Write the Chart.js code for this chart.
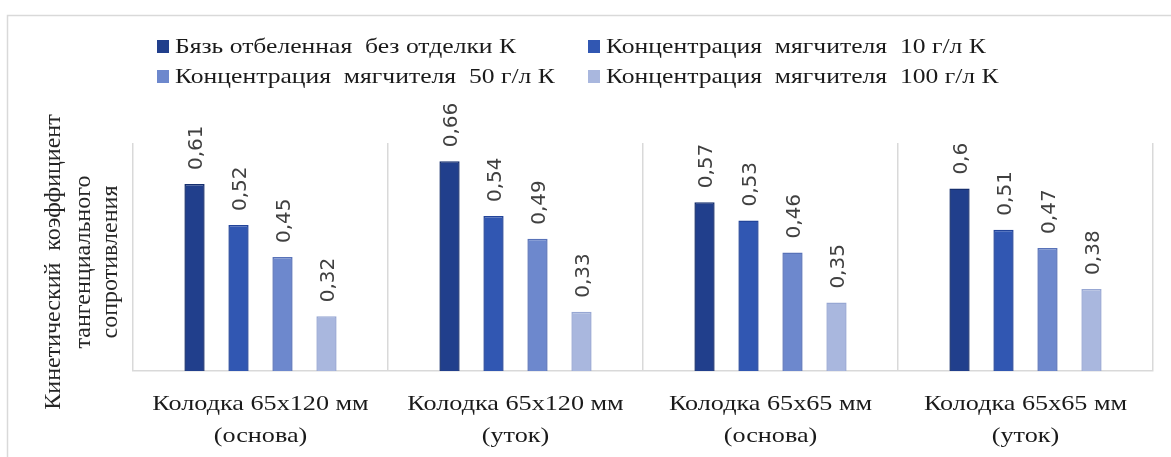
<!DOCTYPE html>
<html>
<head>
<meta charset="utf-8">
<script src="https://cdn.jsdelivr.net/npm/chart.js@4/dist/chart.umd.min.js"></script>
<style>
  html, body { margin: 0; padding: 0; background: #fff; overflow: hidden; }
  #wrap { position: relative; width: 1171px; height: 457px; }
</style>
</head>
<body>
<div id="wrap"><canvas id="chart"></canvas></div>
<script>
// Категории (колодки)
const categories = [
  ["Колодка 65х120 мм", "(основа)"],
  ["Колодка 65х120 мм", "(уток)"],
  ["Колодка 65х65 мм", "(основа)"],
  ["Колодка 65х65 мм", "(уток)"]
];

// Серии
const seriesNames = [
  "Бязь отбеленная  без отделки К",
  "Концентрация  мягчителя  10 г/л К",
  "Концентрация  мягчителя  50 г/л К",
  "Концентрация  мягчителя  100 г/л К"
];
const bazNoFinish = [0.61, 0.66, 0.57, 0.6];
const soft10 = [0.52, 0.54, 0.53, 0.51];
const soft50 = [0.45, 0.49, 0.46, 0.47];
const soft100 = [0.32, 0.33, 0.35, 0.38];

const yTitle = ["Кинетический  коэффициент", "тангенциального", "сопротивления"];

const fills = ["#213f8c", "#3157b2", "#6d88cd", "#a9b7de"];
const borders = ["#152e6e", "#22449a", "#5872b8", "#97a7d3"];

const serif = "'Liberation Serif', 'DejaVu Serif', serif";

// текст, растянутый по горизонтали (как в исходном рисунке)
function wideText(c, t, x, y, sx) {
  c.save();
  c.translate(x, y);
  c.scale(sx, 1);
  c.fillText(t, 0, 0);
  c.restore();
}

// рамка, подписи осей, легенда
const decorPlugin = {
  id: "decor",
  beforeDraw(chart) {
    const c = chart.ctx;
    c.save();
    c.fillStyle = "#fff";
    c.fillRect(0, 0, chart.width, chart.height);
    c.strokeStyle = "#d9d9d9";
    c.lineWidth = 1.5;
    c.strokeRect(7.5, 15.5, 1300, 600);
    c.restore();
  },
  afterDraw(chart) {
    const c = chart.ctx;
    c.save();
    // заголовок оси Y
    c.fillStyle = "#262626";
    c.font = "24px " + serif;
    c.textAlign = "center";
    c.textBaseline = "middle";
    const xs = [54, 84, 111];
    yTitle.forEach((t, i) => {
      c.save();
      c.translate(xs[i], 262);
      c.rotate(-Math.PI / 2);
      c.fillText(t, 0, 0);
      c.restore();
    });

    // подписи категорий
    const xScale = chart.scales.x;
    c.fillStyle = "#1a1a1a";
    c.font = "22px " + serif;
    c.textBaseline = "alphabetic";
    chart.data.labels.forEach((lines, i) => {
      const px = xScale.getPixelForValue(i);
      lines.forEach((t, k) => {
        c.textAlign = "center";
        wideText(c, t, px, 410 + k * 32, 1.19);
      });
    });

    // легенда 2x2
    const colX = [157, 588];
    const rowY = [46.5, 76.5];
    c.font = "21px " + serif;
    c.textAlign = "left";
    c.textBaseline = "middle";
    chart.data.datasets.forEach((ds, i) => {
      const x = colX[i % 2];
      const y = rowY[Math.floor(i / 2)];
      c.fillStyle = ds.backgroundColor;
      c.fillRect(x, y - 6.5, 12, 13);
      c.fillStyle = "#1a1a1a";
      wideText(c, ds.label, x + 18, y + 1, 1.22);
    });
    c.restore();
  }
};

// подписи значений, повернутые
const labelPlugin = {
  id: "valueLabels",
  afterDatasetsDraw(chart) {
    const c = chart.ctx;
    c.save();
    c.fillStyle = "#404040";
    c.font = "20px 'DejaVu Sans', sans-serif";
    c.textAlign = "left";
    c.textBaseline = "middle";
    chart.data.datasets.forEach((ds, i) => {
      chart.getDatasetMeta(i).data.forEach((bar, j) => {
        const txt = String(ds.data[j]).replace(".", ",");
        c.save();
        c.translate(bar.x + 2, bar.y - 14);
        c.rotate(-Math.PI / 2);
        c.fillText(txt, 0, 0);
        c.restore();
      });
    });
    c.restore();
  }
};

const datasets = [bazNoFinish, soft10, soft50, soft100].map((d, i) => ({
  label: seriesNames[i],
  data: d,
  backgroundColor: fills[i],
  borderColor: borders[i],
  borderWidth: 1.5,
  borderSkipped: "start",
  categoryPercentage: 0.69,
  barPercentage: 0.46
}));

new Chart(document.getElementById("chart"), {
  type: "bar",
  data: { labels: categories, datasets: datasets },
  options: {
    responsive: true,
    maintainAspectRatio: false,
    animation: false,
    layout: { padding: { left: 133, right: 18, top: 143, bottom: 86 } },
    plugins: { legend: { display: false }, tooltip: { enabled: false } },
    scales: {
      x: {
        offset: true,
        grid: { display: true, offset: true, color: "#d9d9d9", lineWidth: 1.5, drawTicks: false },
        border: { display: true, color: "#d9d9d9", width: 1.5 },
        ticks: { display: false }
      },
      y: {
        display: false,
        min: 0.2,
        max: 0.7
      }
    }
  },
  plugins: [decorPlugin, labelPlugin]
});
</script>
</body>
</html>
